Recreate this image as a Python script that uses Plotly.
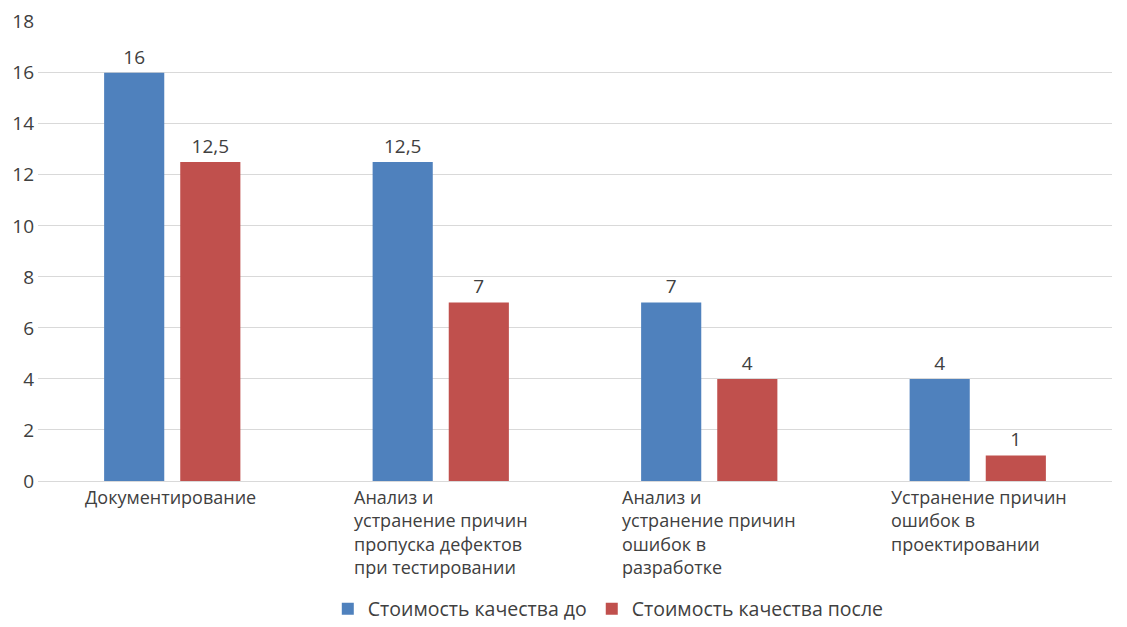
import plotly.graph_objects as go

categories = ["Документирование",
              "Анализ и устранение причин пропуска дефектов при тестировании",
              "Анализ и устранение причин ошибок в разработке",
              "Устранение причин ошибок в проектировании"]
category_labels = ["Документирование",
                   "Анализ и<br>устранение причин<br>пропуска дефектов<br>при тестировании",
                   "Анализ и<br>устранение причин<br>ошибок в<br>разработке",
                   "Устранение причин<br>ошибок в<br>проектировании"]
series_names = ["Стоимость качества до", "Стоимость качества после"]
before = [16, 12.5, 7, 4]
after = [12.5, 7, 4, 1]
colors = ["#4F81BD", "#C0504D"]
y_ticks = [0, 2, 4, 6, 8, 10, 12, 14, 16, 18]

def fmt(v):
    return str(v).replace(".", ",")

fig = go.Figure()
for name, vals, c in zip(series_names, [before, after], colors):
    fig.add_trace(go.Bar(
        x=categories, y=vals, name=name, marker=dict(color=c, line=dict(width=0)),
        text=[fmt(v) for v in vals], textposition="outside",
        textfont=dict(family="Open Sans", size=19, color="#404040"),
        cliponaxis=False,
    ))

for cat, lab in zip(categories, category_labels):
    fig.add_annotation(x=cat, y=0, xref="x", yref="y", text=lab, showarrow=False,
                       xanchor="left", yanchor="top", align="left", xshift=-89, yshift=-2,
                       font=dict(family="Open Sans", size=18, color="#404040"))

fig.update_layout(
    width=1127, height=627,
    margin=dict(l=30, r=23, t=13, b=154, autoexpand=False),
    plot_bgcolor="white", paper_bgcolor="white",
    barmode="group", bargap=0.433, bargroupgap=0.21,
    showlegend=True,
    legend=dict(orientation="h", x=0.531, xanchor="center", yref="container", y=1 - 601 / 627,
                yanchor="middle",
                font=dict(family="Open Sans", size=19.5, color="#404040"),
                traceorder="normal"),
    xaxis=dict(showticklabels=False, showgrid=False, zeroline=False, showline=False, ticks="",
               automargin=False),
    yaxis=dict(range=[0, 18.03], tickvals=y_ticks, showgrid=True, gridcolor="#D9D9D9", gridwidth=1,
               zeroline=True, zerolinecolor="#D9D9D9", zerolinewidth=1, showline=False,
               tickfont=dict(family="Open Sans", size=19, color="#404040"), ticks="",
               ticklabelstandoff=3, automargin=False),
)
fig.write_html("out.html")
